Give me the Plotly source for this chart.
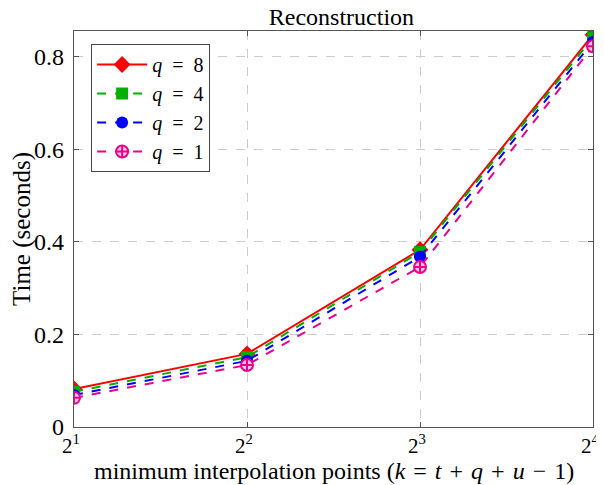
import plotly.graph_objects as go

x_points = [2, 4, 8, 16]
x_ticktext = ["2<sup>1</sup>", "2<sup>2</sup>", "2<sup>3</sup>", "2<sup>4</sup>"]
q8 = [0.082, 0.158, 0.383, 0.848]
q4 = [0.076, 0.151, 0.378, 0.842]
q2 = [0.069, 0.143, 0.368, 0.833]
q1 = [0.063, 0.134, 0.346, 0.823]
y_ticks = [0, 0.2, 0.4, 0.6, 0.8]
y_ticktext = ["0", "0.2", "0.4", "0.6", "0.8"]

FONT = "Liberation Serif"
FS = 25
HS = "\u200a"  # hair space, mimics math spacing
ES = "\u2002"  # en space

def qlabel(v):
    return f"<i>q</i>{ES}={ES}{v}"

series = [
    (qlabel(8), q8, "#ff0000", "solid", dict(symbol="diamond", size=13, color="#ff0000")),
    (qlabel(4), q4, "#00b000", "dash", dict(symbol="square", size=12, color="#00b000")),
    (qlabel(2), q2, "#0000ff", "dash", dict(symbol="circle", size=12, color="#0000ff")),
    (qlabel(1), q1, "#ec008c", "dash", dict(symbol="circle-cross", size=12, color="#f9c6e4",
                                            line=dict(color="#ec008c", width=2))),
]

fig = go.Figure()
for name, vals, col, dash, mk in series:
    fig.add_trace(go.Scatter(x=x_points, y=vals, name=name, mode="lines+markers",
                             line=dict(color=col, width=2, dash=dash), marker=mk))

axis_common = dict(showline=True, linecolor="#555", linewidth=1.2, mirror="ticks",
                   ticks="inside", ticklen=5, tickcolor="#555", automargin=False,
                   showgrid=True, gridcolor="#cccccc", griddash="dash", gridwidth=1,
                   zeroline=False)

xtitle = ("minimum interpolation points (<i>k</i>" + HS + " = " + HS + "<i>t</i>" + HS + " + " + HS +
          "<i>q</i>" + HS + " + " + HS + "<i>u</i>" + HS + " − " + HS + "1)")

# note: the page body has an 8px margin, margins below compensate for it
fig.update_layout(
    width=604, height=485,
    margin=dict(l=66, r=19, t=23, b=66),
    paper_bgcolor="white", plot_bgcolor="white",
    font=dict(family=FONT, color="black", size=FS),
    title=dict(text="Reconstruction", x=0.552, xanchor="center", y=0.982, yanchor="middle",
               font=dict(size=24, family=FONT)),
    xaxis=dict(type="log", range=[0.30103, 1.20412], tickvals=x_points, ticktext=x_ticktext,
               ticklabelshift=-3, ticklabelstandoff=0,
               tickfont=dict(size=21, color="black", family=FONT),
               **axis_common),
    yaxis=dict(range=[0, 0.856], tickvals=y_ticks, ticktext=y_ticktext, ticklabelstandoff=4,
               tickfont=dict(size=24, color="black", family=FONT),
               title=dict(text="Time (seconds)", standoff=4, font=dict(size=FS, family=FONT)),
               **axis_common),
    legend=dict(x=0.033, y=0.967, xanchor="left", yanchor="top", bgcolor="white",
                bordercolor="#444", borderwidth=1, font=dict(size=20, family=FONT),
                tracegroupgap=0, itemwidth=50),
    showlegend=True,
    annotations=[dict(text=xtitle, xref="paper", yref="paper", x=0.5, y=-0.112,
                      xanchor="center", yanchor="middle", showarrow=False,
                      font=dict(size=24, family=FONT, color="black"))],
)

fig.write_html("out.html")
